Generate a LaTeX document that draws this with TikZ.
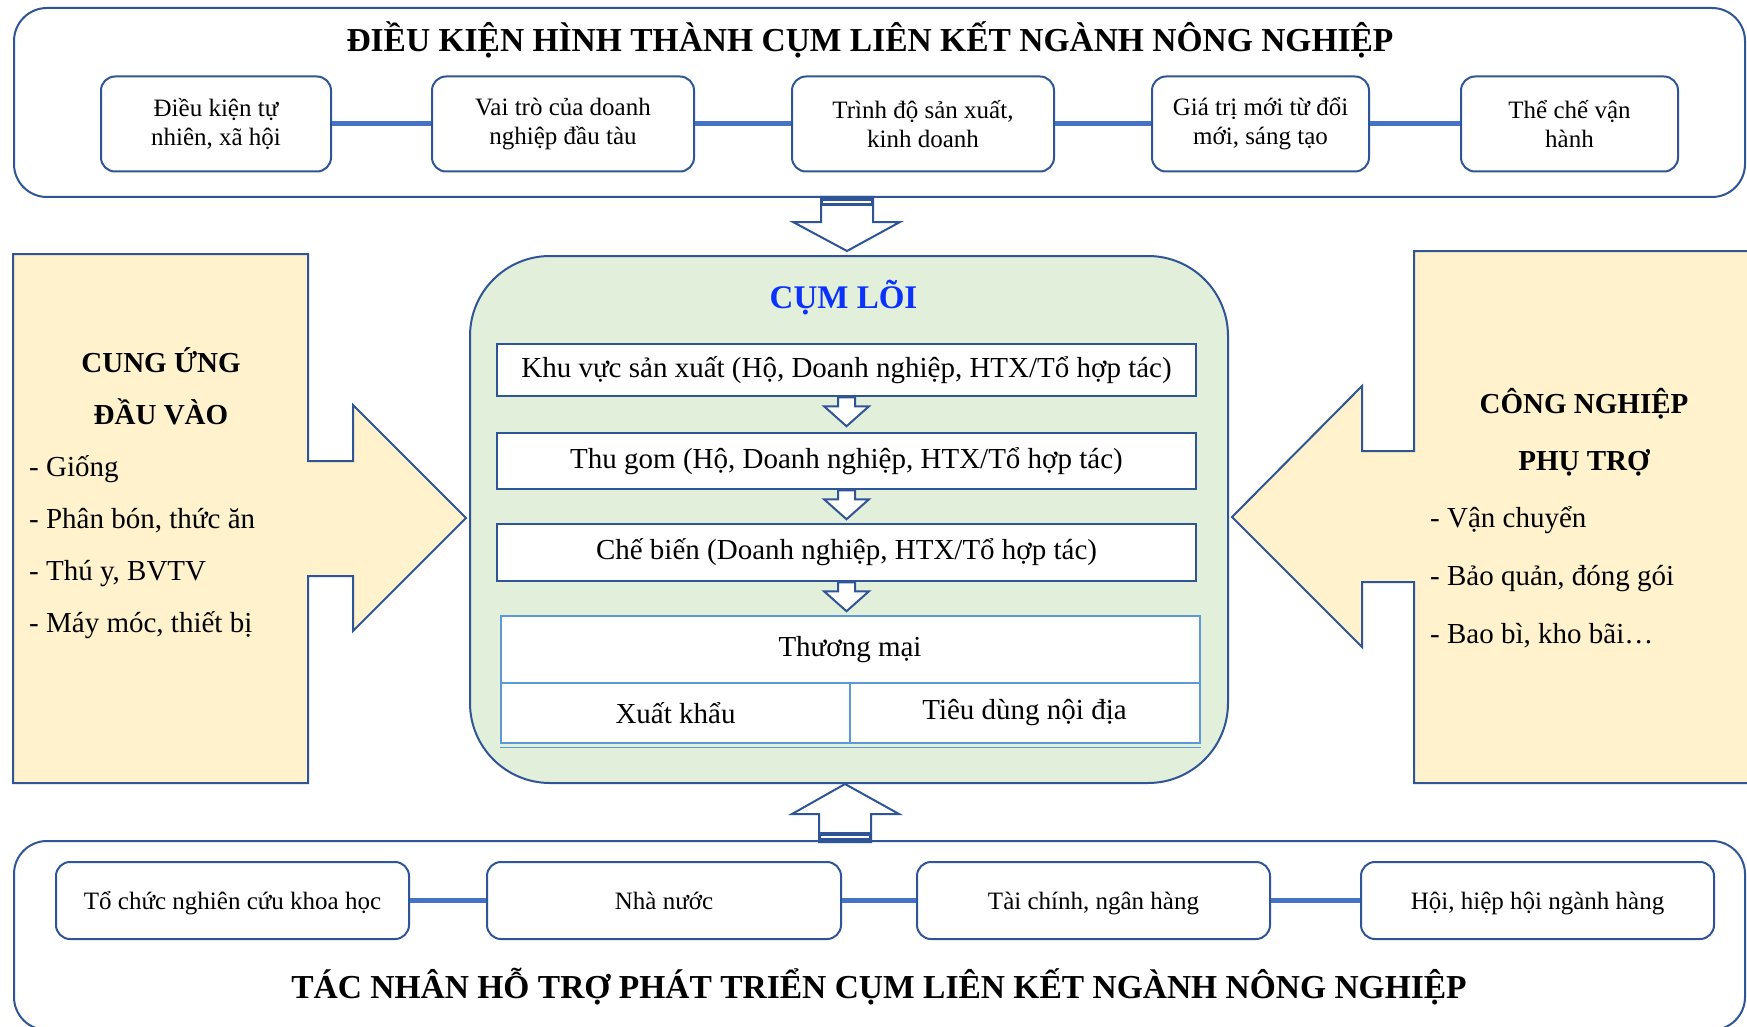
\documentclass[tikz,border=0pt]{standalone}
\usepackage{fontspec}
\setmainfont{Liberation Serif}
\usetikzlibrary{calc}
\definecolor{dblue}{HTML}{2F5597}
\definecolor{lblue}{HTML}{4472C4}
\definecolor{tblue}{HTML}{5B9BD5}
\definecolor{yfill}{HTML}{FFF2CC}
\definecolor{gfill}{HTML}{E2EFDA}
\definecolor{coreblue}{RGB}{10,50,250}
\newcommand\myfs[2]{\fontsize{#1}{#2}\selectfont}
\begin{document}
\begin{tikzpicture}[x=1pt,y=-1pt,
  outerbox/.style={draw=dblue,line width=2pt,rounded corners=33pt,fill=white,inner sep=0pt},
  smallbox/.style={draw=dblue,line width=2pt,rounded corners=14pt,fill=white,align=center,font=\myfs{25}{29},inner sep=0pt},
  onelinebox/.style={smallbox,text height=18pt,text depth=1pt},
  conn/.style={draw=lblue,line width=5pt},
  procbox/.style={draw=dblue,line width=2.5pt,fill=white,inner sep=0pt,font=\myfs{29}{33}},
  cell/.style={draw=tblue,line width=2pt,fill=white,inner sep=0pt,font=\myfs{29}{33}},
  blockarrow/.style={draw=dblue,line width=2pt,fill=white,line join=miter},
  panel/.style={draw=dblue,line width=2pt,fill=yfill,line join=miter},
  headtxt/.style={font=\bfseries\myfs{29}{33},anchor=base,inner sep=0pt},
  bullettxt/.style={font=\myfs{29}{33},anchor=base west,inner sep=0pt},
  titletxt/.style={font=\bfseries\myfs{33.5}{38},anchor=base,inner sep=0pt}
]
\clip (0,0) rectangle (1747,1027);
\fill[white] (0,0) rectangle (1747,1027);

% ---------- top block ----------
\node[outerbox,minimum width=1731pt,minimum height=189pt] (topbox) at (879.5,102.5) {};
\node[titletxt] (ttop) at (870,52) {ĐIỀU KIỆN HÌNH THÀNH CỤM LIÊN KẾT NGÀNH NÔNG NGHIỆP};
\node[smallbox,minimum width=230pt,minimum height=95pt] (b1) at (216,124) {Điều kiện tự\\nhiên, xã hội};
\node[smallbox,minimum width=262pt,minimum height=95pt] (b2) at (563,124) {Vai trò của doanh\\nghiệp đầu tàu};
\node[smallbox,minimum width=262pt,minimum height=95pt] (b3) at (923,124) {Trình độ sản xuất,\\kinh doanh};
\node[smallbox,minimum width=217pt,minimum height=95pt] (b4) at (1260.5,124) {Giá trị mới từ đổi\\mới, sáng tạo};
\node[smallbox,minimum width=217pt,minimum height=95pt] (b5) at (1569.5,124) {Thể chế vận\\hành};
\draw[conn] (b1) -- (b2);
\draw[conn] (b2) -- (b3);
\draw[conn] (b3) -- (b4);
\draw[conn] (b4) -- (b5);

% ---------- core ----------
\node[draw=dblue,line width=2pt,fill=gfill,rounded corners=80pt,minimum width=758pt,minimum height=527pt,inner sep=0pt] (core) at (849,519.5) {};
\node[font=\bfseries\myfs{33}{38},text=coreblue,anchor=base,inner sep=0pt] (coretitle) at (843.5,308) {CỤM LÕI};

\node[procbox,minimum width=699pt,minimum height=52pt] (pA) at (846.5,370) {Khu vực sản xuất (Hộ, Doanh nghiệp, HTX/Tổ hợp tác)};
\node[procbox,minimum width=699pt,minimum height=56pt] (pB) at (846.5,461) {Thu gom (Hộ, Doanh nghiệp, HTX/Tổ hợp tác)};
\node[procbox,minimum width=699pt,minimum height=57pt] (pC) at (846.5,552.5) {Chế biến (Doanh nghiệp, HTX/Tổ hợp tác)};

\node[cell,minimum width=699pt,minimum height=67.5pt] (tm) at (850,649.25) {Thương mại};
\node[cell,minimum width=349pt,minimum height=60pt] (xk) at (675.5,713) {Xuất khẩu};
\node[cell,minimum width=350pt,minimum height=60pt] (td) at (1024.5,713) {Tiêu dùng nội địa};
\draw[tblue,line width=1.5pt] ([yshift=-3.5pt]xk.south west) -- ([yshift=-3.5pt]td.south east);

\foreach \src in {pA,pB,pC}{
  \draw[blockarrow] ([xshift=-8.5pt]\src.south) -- ++(0,9) -- ++(-14,0) -- ++(22.5,20) -- ++(22.5,-20) -- ++(-14,0) -- ++(0,-9) -- cycle;
}

% ---------- arrow from top block ----------
\draw[blockarrow] ([xshift=-2pt,yshift=4pt]core.north) -- ++(53,-29) -- ++(-27,0) -- ++(0,-25) -- ++(-52,0) -- ++(0,25) -- ++(-28,0) -- cycle;
\fill[dblue] (821,197) rectangle (873,206);
\draw[white,line width=1.5pt] (823,202) -- (871,202);

% ---------- side panels ----------
\draw[panel] (13,254) -- (308,254) -- (308,461) -- (353,461) -- (353,405) -- (466,518) -- (353,631) -- (353,576) -- (308,576) -- (308,783) -- (13,783) -- cycle;
\node[headtxt] (lh1) at (161,372) {CUNG ỨNG};
\node[headtxt] (lh2) at (161,424) {ĐẦU VÀO};
\node[bullettxt] (l1) at (29,476) {- Giống};
\node[bullettxt] (l2) at (29,528) {- Phân bón, thức ăn};
\node[bullettxt] (l3) at (29,580) {- Thú y, BVTV};
\node[bullettxt] (l4) at (29,632) {- Máy móc, thiết bị};

\draw[panel] (1760,251) -- (1414,251) -- (1414,451) -- (1362,451) -- (1362,386) -- (1232,517) -- (1362,647) -- (1362,582) -- (1414,582) -- (1414,783) -- (1760,783) -- cycle;
\node[headtxt] (rh1) at (1584,413) {CÔNG NGHIỆP};
\node[headtxt] (rh2) at (1584,470) {PHỤ TRỢ};
\node[bullettxt] (r1) at (1430,527) {- Vận chuyển};
\node[bullettxt] (r2) at (1430,585) {- Bảo quản, đóng gói};
\node[bullettxt] (r3) at (1430,643) {- Bao bì, kho bãi…};

% ---------- bottom block ----------
\node[outerbox,minimum width=1731pt,minimum height=189pt] (botbox) at (879.5,935.5) {};
\draw[blockarrow] ([xshift=-4pt]core.south) -- ++(54,30) -- ++(-28,0) -- ++(0,28) -- ++(-52,0) -- ++(0,-28) -- ++(-27,0) -- cycle;
\fill[dblue] (819,832) rectangle (871,842);
\draw[white,line width=1.5pt] (821,837) -- (869,837);

\node[onelinebox,minimum width=353pt,minimum height=77pt] (c1) at (232.5,900.5) {Tổ chức nghiên cứu khoa học};
\node[onelinebox,minimum width=354pt,minimum height=77pt] (c2) at (664,900.5) {Nhà nước};
\node[onelinebox,minimum width=353pt,minimum height=77pt] (c3) at (1093.5,900.5) {Tài chính, ngân hàng};
\node[onelinebox,minimum width=353pt,minimum height=77pt] (c4) at (1537.5,900.5) {Hội, hiệp hội ngành hàng};
\draw[conn] (c1) -- (c2);
\draw[conn] (c2) -- (c3);
\draw[conn] (c3) -- (c4);
\node[titletxt] (tbot) at (879,998) {TÁC NHÂN HỖ TRỢ PHÁT TRIỂN CỤM LIÊN KẾT NGÀNH NÔNG NGHIỆP};
\end{tikzpicture}
\end{document}
